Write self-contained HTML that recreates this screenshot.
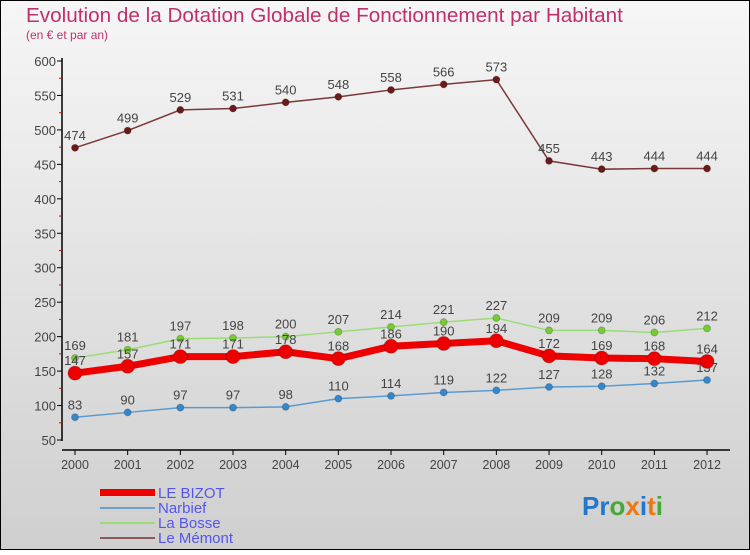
<!DOCTYPE html>
<html><head><meta charset="utf-8"><style>
body{margin:0;width:750px;height:550px;overflow:hidden;font-family:"Liberation Sans",sans-serif}
</style></head><body>
<svg width="750" height="550" xmlns="http://www.w3.org/2000/svg">
<defs><linearGradient id="bg" x1="0" y1="0" x2="0" y2="1"><stop offset="0" stop-color="#f6f6f6"/><stop offset="1" stop-color="#cfcfcf"/></linearGradient></defs>
<rect x="0.5" y="0.5" width="749" height="549" fill="url(#bg)" stroke="#000"/>
<text x="26" y="22" font-size="20.7" fill="#c0306a">Evolution de la Dotation Globale de Fonctionnement par Habitant</text>
<text x="26" y="39" font-size="12" fill="#c0306a">(en € et par an)</text>
<g id="axes"></g><g id="series"></g>
<g>
<rect x="100" y="489" width="55" height="7" fill="#ee0000"/>
<text x="158" y="498" font-size="15" fill="#5555ee">LE BIZOT</text>
<line x1="100" y1="508" x2="155" y2="508" stroke="#6fa0c8" stroke-width="2"/>
<text x="158" y="513" font-size="15" fill="#5555ee">Narbief</text>
<line x1="100" y1="523" x2="155" y2="523" stroke="#99dd77" stroke-width="2"/>
<text x="158" y="528" font-size="15" fill="#5555ee">La Bosse</text>
<line x1="100" y1="538" x2="155" y2="538" stroke="#8b5a5a" stroke-width="2"/>
<text x="158" y="543" font-size="15" fill="#5555ee">Le Mémont</text>
</g>
<text x="582" y="515" font-size="26" font-weight="bold"><tspan fill="#2277cc">Pr</tspan><tspan fill="#44aa33">o</tspan><tspan fill="#ee7711">x</tspan><tspan fill="#2277cc">i</tspan><tspan fill="#ee7711">t</tspan><tspan fill="#44aa33">i</tspan></text>
</svg>
<script>
const years=["2000","2001","2002","2003","2004","2005","2006","2007","2008","2009","2010","2011","2012"];
const yTicks=[50,100,150,200,250,300,350,400,450,500,550,600];
const bizot=[147,157,171,171,178,168,186,190,194,172,169,168,164];
const narbief=[83,90,97,97,98,110,114,119,122,127,128,132,137];
const bosse=[169,181,197,198,200,207,214,221,227,209,209,206,212];
const memont=[474,499,529,531,540,548,558,566,573,455,443,444,444];
const NS="http://www.w3.org/2000/svg";
const X=i=>75+i*52.67, Y=v=>440-(v-50)*379/550;
function mk(t,a,p){const e=document.createElementNS(NS,t);for(const k in a)e.setAttribute(k,a[k]);p.appendChild(e);return e;}
const ax=document.getElementById('axes');
let l=mk('line',{x1:62,y1:58,x2:62,y2:441,stroke:'#000','stroke-width':1.5},ax);


l=mk('line',{x1:62,y1:450,x2:730,y2:450,stroke:'#000','stroke-width':1.5},ax);


yTicks.forEach(v=>{mk('line',{x1:57,y1:Y(v),x2:62,y2:Y(v),stroke:'#000'},ax);
 if(v<600)mk('line',{x1:59,y1:Y(v+25),x2:62,y2:Y(v+25),stroke:'#e00'},ax);
 const t=mk('text',{x:56,y:Y(v)+5,'text-anchor':'end','font-size':13,fill:'#444'},ax);t.textContent=v;
 
 });
years.forEach((y,i)=>{mk('line',{x1:X(i),y1:450,x2:X(i),y2:455,stroke:'#000'},ax);
 const t=mk('text',{x:X(i),y:469,'text-anchor':'middle','font-size':12.5,fill:'#444'},ax);t.textContent=y;
 
 });
const sg=document.getElementById('series');
function draw(data,name,color,dot,w,r){
 const g=mk('g',{},sg);
 
 
 mk('polyline',{points:data.map((v,i)=>X(i)+','+Y(v)).join(' '),fill:'none',stroke:color,'stroke-width':w},g);
 data.forEach((v,i)=>{const c=mk('circle',{cx:X(i),cy:Y(v),r:r,fill:dot,stroke:'#0003'},g);
  
  
  const t=mk('text',{x:X(i),y:Y(v)-8,'text-anchor':'middle','font-size':13,fill:'#444'},g);t.textContent=v;
  
  });
}
draw(memont,'le-memont','#7a3838','#6b1a1a',1.5,3.5);
draw(narbief,'narbief','#5a9ad0','#3388cc',1.5,3.5);
draw(bosse,'la-bosse','#99dd77','#77cc33',1.5,3.5);
draw(bizot,'le-bizot','#ee0000','#ee0000',7,7);
</script>
</body></html>
